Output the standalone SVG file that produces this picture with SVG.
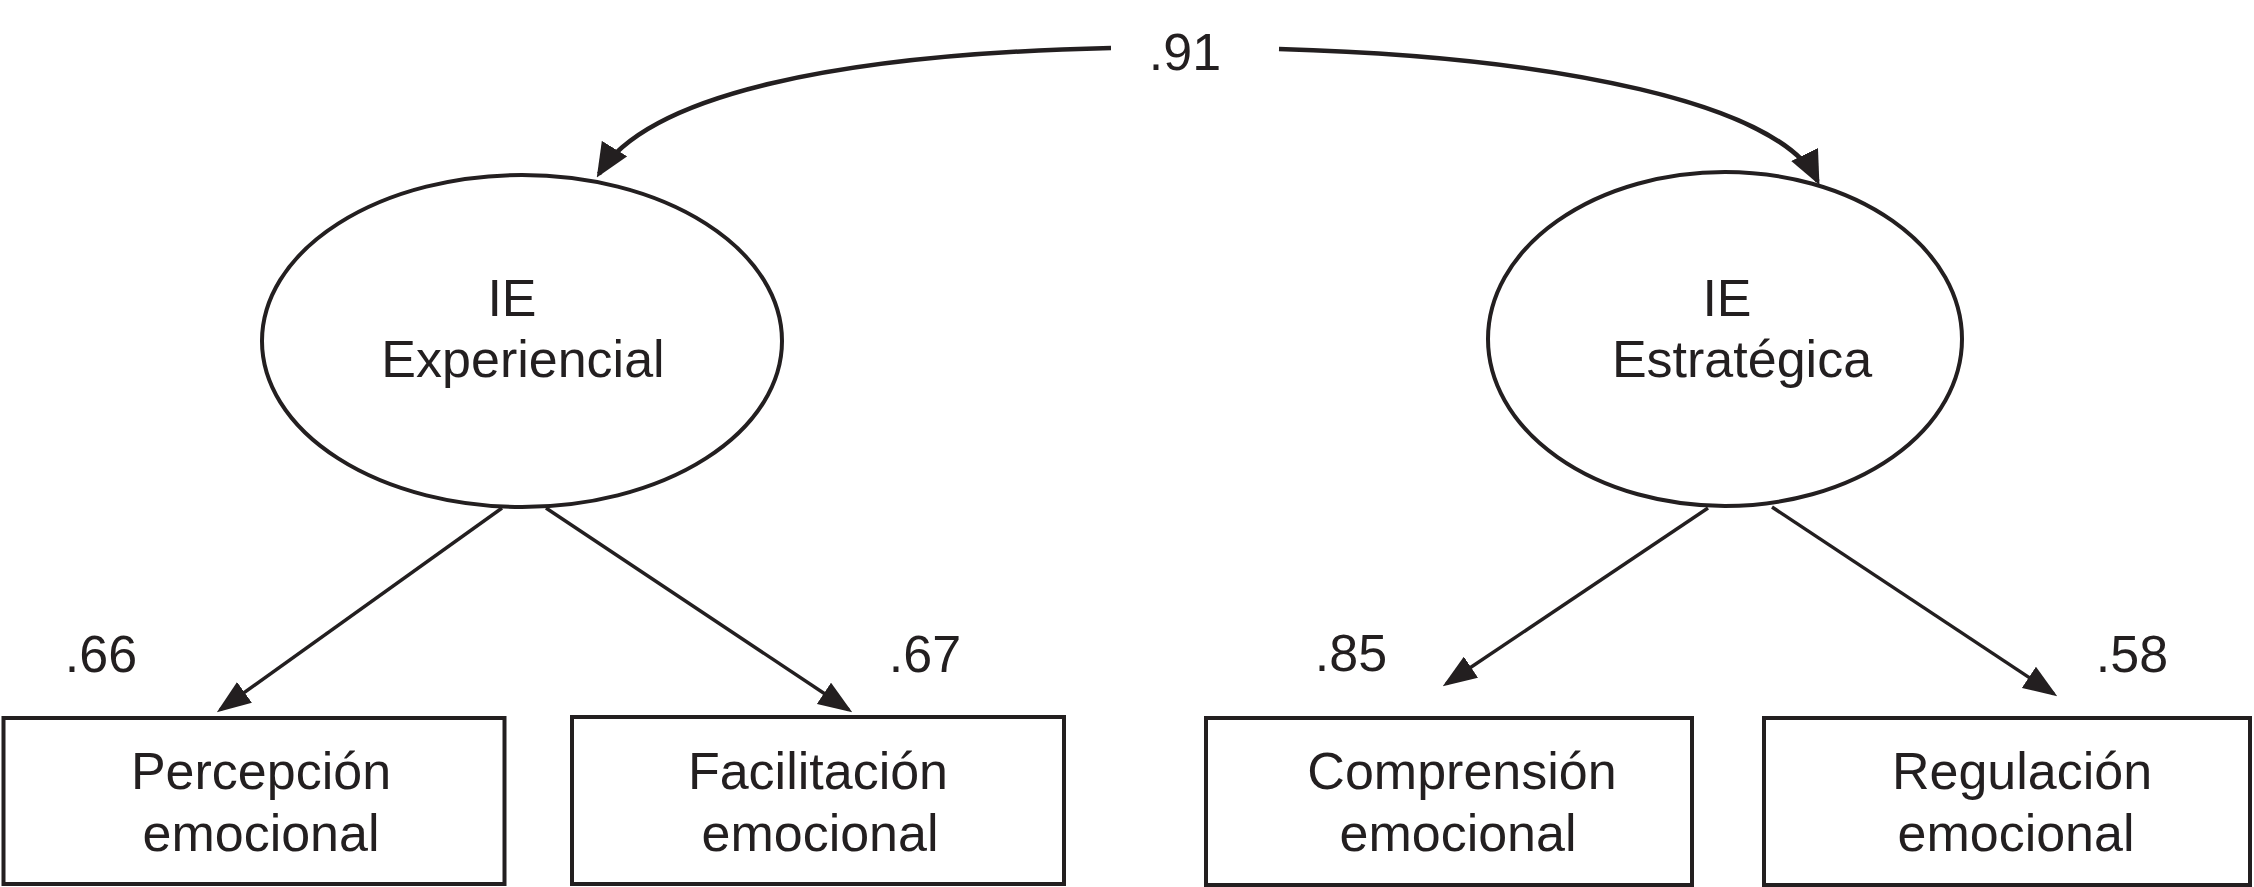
<svg xmlns="http://www.w3.org/2000/svg" width="2254" height="887" viewBox="0 0 2254 887">
<style>
text{font-family:"Liberation Sans",Arial,Helvetica,sans-serif;font-size:52px;fill:#231f20;text-anchor:middle}
.node{fill:#fff;stroke:#231f20;stroke-width:4}
.edge{fill:none;stroke:#231f20;stroke-width:3.5;marker-end:url(#arr)}
.cov{fill:none;stroke:#231f20;stroke-width:4.5;marker-end:url(#arr2)}
</style>
<defs>
<marker id="arr" markerUnits="userSpaceOnUse" markerWidth="34" markerHeight="26" viewBox="0 0 32 24" refX="28" refY="12" orient="auto"><path d="M0,0 L32,12 L0,24 z" fill="#231f20"/></marker>
<marker id="arr2" markerUnits="userSpaceOnUse" markerWidth="34" markerHeight="30" viewBox="0 0 32 28" refX="28" refY="14" orient="auto"><path d="M0,0 L32,14 L0,28 z" fill="#231f20"/></marker>
</defs>
<rect width="2254" height="887" fill="#fff"/>
<g id="connectors">
<path class="cov" d="M1111,48 C840,54 648,94 599,174"/>
<path class="cov" d="M1279,49 C1560,57 1780,104 1817.6,181.3"/>
<path class="edge" d="M502,508 L220.3,709.7"/>
<path class="edge" d="M546,508 L848.7,709.8"/>
<path class="edge" d="M1708,508 L1446.3,683.8"/>
<path class="edge" d="M1772,507 L2053.7,693.8"/>
<text x="1185" y="70">.91</text>
<text x="101" y="672">.66</text>
<text x="925" y="672">.67</text>
<text x="1351" y="671">.85</text>
<text x="2132" y="672">.58</text>
</g>
<g id="ie-experiencial">
<ellipse class="node" cx="522" cy="341" rx="260" ry="166"/>
<text x="512" y="316">IE</text>
<text x="523" y="377">Experiencial</text>
</g>
<g id="ie-estrategica">
<ellipse class="node" cx="1725" cy="339" rx="237" ry="167"/>
<text x="1727" y="316">IE</text>
<text x="1742" y="377">Estratégica</text>
</g>
<g id="percepcion">
<rect class="node" x="3.5" y="718" width="501" height="166"/>
<text x="261" y="789">Percepción</text>
<text x="261" y="851">emocional</text>
</g>
<g id="facilitacion">
<rect class="node" x="572" y="717" width="492" height="167"/>
<text x="818" y="789">Facilitación</text>
<text x="820" y="851">emocional</text>
</g>
<g id="comprension">
<rect class="node" x="1206" y="718" width="486" height="167"/>
<text x="1462" y="789">Comprensión</text>
<text x="1458" y="851">emocional</text>
</g>
<g id="regulacion">
<rect class="node" x="1764" y="718" width="486" height="167"/>
<text x="2022" y="789">Regulación</text>
<text x="2016" y="851">emocional</text>
</g>
</svg>
